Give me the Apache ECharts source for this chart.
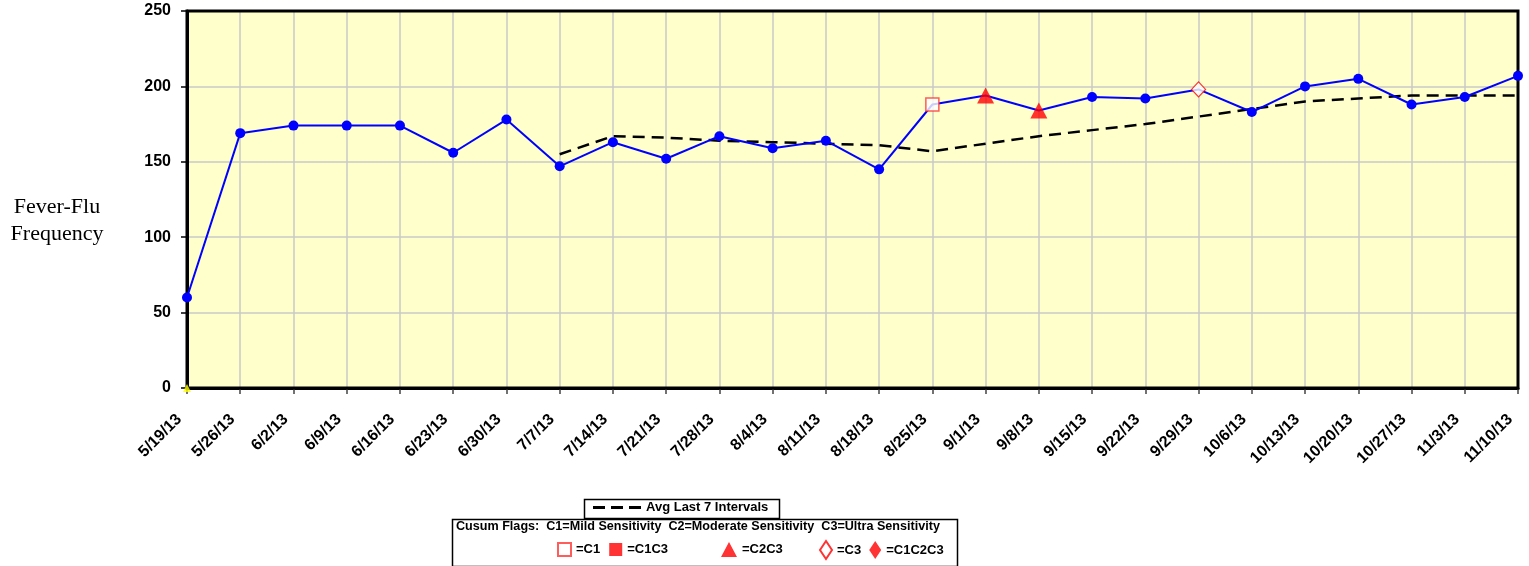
<!DOCTYPE html>
<html>
<head>
<meta charset="utf-8">
<script src="https://cdn.jsdelivr.net/npm/echarts@6/dist/echarts.min.js"></script>
<style>
  html, body { margin: 0; padding: 0; background: #fff; }
  #chart { width: 1529px; height: 566px; }
</style>
</head>
<body>
<div id="chart"></div>
<script>
// weekly dates
const dates = ["5/19/13", "5/26/13", "6/2/13", "6/9/13", "6/16/13", "6/23/13", "6/30/13", "7/7/13",
  "7/14/13", "7/21/13", "7/28/13", "8/4/13", "8/11/13", "8/18/13", "8/25/13", "9/1/13", "9/8/13",
  "9/15/13", "9/22/13", "9/29/13", "10/6/13", "10/13/13", "10/20/13", "10/27/13", "11/3/13", "11/10/13"];
// fever-flu counts
const freq = [60, 169, 174, 174, 174, 156, 178, 147, 163, 152, 167, 159, 164, 145, 188, 194, 184,
  193, 192, 198, 183, 200, 205, 188, 193, 207];
// avg of last 7 intervals (starts at 7/7)
const avg7 = [null, null, null, null, null, null, null, 155, 167, 166, 164, 163, 162, 161, 157,
  162, 167, 171, 175, 180, 185, 190, 192, 194, 194, 194];
// cusum flags
const flagC1 = ["8/25/13"];
const flagC1C3 = [];
const flagC2C3 = ["9/1/13", "9/8/13"];
const flagC3 = ["9/29/13"];
const flagC1C2C3 = [];
const yTicks = [0, 50, 100, 150, 200, 250];

const allFlags = flagC1.concat(flagC1C3, flagC2C3, flagC3, flagC1C2C3);
const flagData = (list) => dates.filter(d => list.includes(d)).map(d => [d, freq[dates.indexOf(d)]]);

const chart = echarts.init(document.getElementById("chart"));
const bold = { fontFamily: "Liberation Sans", fontWeight: "bold", color: "#000" };
const red = "#FF0000";
const G = { left: 187, right: 11, top: 11, bottom: 178 };

const option = {
  animation: false,
  grid: {
    ...G,
    outerBoundsMode: "none",
    show: true, backgroundColor: "#FFFFCC", borderColor: "#000", borderWidth: 0
  },
  xAxis: {
    type: "category",
    data: dates,
    boundaryGap: false,
    axisLine: { lineStyle: { color: "#000", width: 3 } },
    axisTick: { length: 6, lineStyle: { color: "#444", width: 1.5 } },
    splitLine: { show: true, lineStyle: { color: "#C8C8C8", width: 1.5 } },
    axisLabel: { ...bold, fontSize: 16, rotate: 45, interval: 0, margin: 21, padding: [0, 11, 0, 0] }
  },
  yAxis: {
    type: "value",
    min: yTicks[0], max: yTicks[yTicks.length - 1], interval: 50,
    axisLine: { show: true, lineStyle: { color: "#000", width: 3 } },
    axisTick: { show: true, length: 6, lineStyle: { color: "#000", width: 1.5 } },
    splitLine: { lineStyle: { color: "#C8C8C8", width: 1.5 } },
    axisLabel: { ...bold, fontSize: 16, margin: 16 }
  },
  legend: [
    {
      data: [{ name: "Avg Last 7 Intervals", icon: "path://M0,0h12v3h-12z M18,0h12v3h-12z M36,0h12v3h-12z" }],
      left: 593, top: 501, padding: 0,
      itemWidth: 48, itemHeight: 3, selectedMode: false,
      textStyle: { ...bold, fontSize: 13 }
    },
    {
      data: ["=C1", "=C1C3"], left: 557, top: 542, padding: 0, itemGap: 9,
      itemWidth: 13, itemHeight: 13, selectedMode: false,
      textStyle: { ...bold, fontSize: 13 }
    },
    {
      data: ["=C2C3"], left: 721, top: 542, padding: 0,
      itemWidth: 16, itemHeight: 15, selectedMode: false,
      textStyle: { ...bold, fontSize: 13 }
    },
    {
      data: ["=C3", "=C1C2C3"], left: 819, top: 540, padding: 0, itemGap: 8,
      itemWidth: 12, itemHeight: 18, selectedMode: false,
      textStyle: { ...bold, fontSize: 13 }
    }
  ],
  graphic: [
    // plot frame above the grid lines, below the series
    { type: "rect", x: G.left, y: G.top, z: 1, silent: true,
      shape: { width: 1529 - G.left - G.right, height: 566 - G.top - G.bottom },
      style: { fill: "none", stroke: "#000", lineWidth: 3 } },
    { type: "text", x: 57, y: 194,
      style: { text: "Fever-Flu\nFrequency", align: "center", verticalAlign: "top",
        font: "22px 'Liberation Serif'", lineHeight: 27, fill: "#000" } },
    { type: "rect", left: 582, top: 497, shape: { width: 195, height: 19 },
      style: { fill: "none", stroke: "#000", lineWidth: 1.5 } },
    { type: "rect", left: 450, top: 517, shape: { width: 505, height: 47 },
      style: { fill: "none", stroke: "#000", lineWidth: 1.5 } },
    { type: "text", left: 456, top: 520,
      style: { text: "Cusum Flags:  C1=Mild Sensitivity  C2=Moderate Sensitivity  C3=Ultra Sensitivity",
        font: "bold 12.6px 'Liberation Sans'", fill: "#000" } }
  ],
  series: [
    {
      name: "Avg Last 7 Intervals",
      type: "line",
      data: avg7,
      symbol: "none",
      lineStyle: { color: "#000", width: 2.5, type: [12, 7] },
      itemStyle: { color: "#000" },
      z: 2
    },
    {
      name: "Fever-Flu",
      type: "line",
      data: freq.map((v, i) => allFlags.includes(dates[i]) ? { value: v, symbol: "none" } : v),
      symbol: "circle",
      symbolSize: 10,
      clip: false,
      lineStyle: { color: "#0000FF", width: 2 },
      itemStyle: { color: "#0000FF" },
      z: 3
    },
    {
      name: "=C1", type: "scatter", data: flagData(flagC1), symbol: "rect", symbolSize: 13,
      itemStyle: { color: "#fff", borderColor: "#FF3333", borderWidth: 1.5 }, z: 4
    },
    {
      name: "=C1C3", type: "scatter", data: flagData(flagC1C3), symbol: "rect", symbolSize: 13,
      itemStyle: { color: red }, z: 4
    },
    {
      name: "=C2C3", type: "scatter", data: flagData(flagC2C3), symbol: "triangle", symbolSize: [17, 16],
      itemStyle: { color: red }, z: 4
    },
    {
      name: "=C3", type: "scatter", data: flagData(flagC3), symbol: "diamond", symbolSize: [14, 15],
      itemStyle: { color: "#fff", borderColor: red, borderWidth: 1.2 }, z: 4
    },
    {
      name: "=C1C2C3", type: "scatter", data: flagData(flagC1C2C3), symbol: "diamond", symbolSize: [14, 15],
      itemStyle: { color: red }, z: 4
    },
    {
      name: "zero", type: "scatter", data: [[dates[0], 0]], symbol: "triangle", symbolSize: 8,
      clip: false, itemStyle: { color: "#FFFF00" }, z: 5
    }
  ]
};
chart.setOption(option);
</script>
</body>
</html>
